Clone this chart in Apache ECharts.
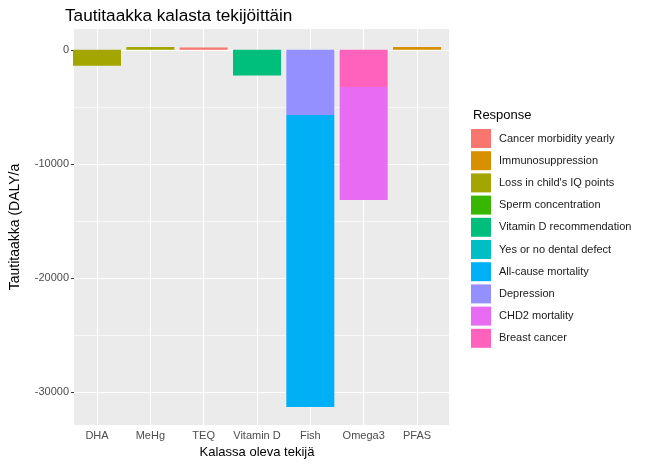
<!DOCTYPE html>
<html>
<head>
<meta charset="utf-8">
<script src="https://cdn.jsdelivr.net/npm/echarts@6/dist/echarts.min.js"></script>
<style>html,body{margin:0;padding:0;background:#fff;}#c{width:650px;height:465px;}</style>
</head>
<body>
<div id="c"></div>
<script>
const categories = ['DHA', 'MeHg', 'TEQ', 'Vitamin D', 'Fish', 'Omega3', 'PFAS'];
const responses = ['Cancer morbidity yearly', 'Immunosuppression', "Loss in child's IQ points", 'Sperm concentration', 'Vitamin D recommendation', 'Yes or no dental defect', 'All-cause mortality', 'Depression', 'CHD2 mortality', 'Breast cancer'];
const colors = ['#F8766D', '#D89000', '#A3A500', '#39B600', '#00BF7D', '#00BFC4', '#00B0F6', '#9590FF', '#E76BF3', '#FF62BC'];
// values per response, aligned with categories
const cancerMorbidity = [null, null, 200, null, null, null, null];
const immunosuppression = [null, null, null, null, null, null, 250];
const iqLoss = [-1400, 250, null, null, null, null, null];
const spermConcentration = [null, null, null, null, null, null, null];
const vitaminDRec = [null, null, null, -2250, null, null, null];
const dentalDefect = [null, null, null, null, null, null, null];
const allCauseMortality = [null, null, null, null, -25600, null, null];
const depression = [null, null, null, null, -5700, null, null];
const chd2Mortality = [null, null, null, null, null, -9900, null];
const breastCancer = [null, null, null, null, null, -3250, null];
const yTicks = [0, -10000, -20000, -30000];
const yMinor = [-5000, -15000, -25000];

const seriesValues = [cancerMorbidity, immunosuppression, iqLoss, spermConcentration, vitaminDRec, dentalDefect, allCauseMortality, depression, chd2Mortality, breastCancer];

const font = 'Liberation Sans, Arial, sans-serif';
const yMin = -32878, yMax = 1828;

// panel (outer grid) and data area with ggplot's 0.6-category expansion (inner grid)
const panelLeft = 65, panelRight = 201, panelTop = 29, panelBottom = 40;
const panelW = 650 - panelLeft - panelRight;
const band = panelW / (categories.length + 0.2);
const inset = band * 0.1;

const series = [];
// horizontal gridlines in the panel grid
series.push({
  name: '_hgrid', type: 'line', data: [], xAxisIndex: 0, yAxisIndex: 0, z: 1, silent: true,
  markLine: {
    silent: true, symbol: 'none', animation: false, label: {show: false}, z: 1,
    data: [
      ...yMinor.map(v => ({yAxis: v, lineStyle: {color: '#fff', width: 0.6, type: 'solid'}})),
      ...yTicks.map(v => ({yAxis: v, lineStyle: {color: '#fff', width: 1.1, type: 'solid'}}))
    ]
  }
});
// vertical gridlines at category centres in the data grid
series.push({
  name: '_vgrid', type: 'line', data: [], xAxisIndex: 1, yAxisIndex: 1, z: 1, silent: true,
  markLine: {
    silent: true, symbol: 'none', animation: false, label: {show: false}, z: 1,
    data: categories.map(c => ({xAxis: c, lineStyle: {color: '#fff', width: 1.1, type: 'solid'}}))
  }
});
// ggplot stacks the last factor level nearest zero -> add in reverse
for (let i = responses.length - 1; i >= 0; i--) {
  series.push({
    name: responses[i], type: 'bar', stack: 'total', barWidth: '90%', z: 3,
    xAxisIndex: 1, yAxisIndex: 1,
    itemStyle: {color: colors[i]},
    data: seriesValues[i],
    animation: false
  });
}

const chart = echarts.init(document.getElementById('c'), null, {renderer: 'canvas'});
chart.setOption({
  animation: false,
  textStyle: {fontFamily: font},
  title: [
    {text: 'Tautitaakka kalasta tekijöittäin', left: 60, top: 3, textStyle: {fontFamily: font, fontSize: 17.2, fontWeight: 'normal', color: '#000'}},
    {text: 'Response', left: 468, top: 104, textStyle: {fontFamily: font, fontSize: 13, fontWeight: 'normal', color: '#000'}}
  ],
  legend: {
    orient: 'vertical', left: 466, top: 124,
    data: responses,
    itemWidth: 20, itemHeight: 19, itemGap: 3.2,
    icon: 'rect',
    textStyle: {fontFamily: font, fontSize: 11, color: '#1a1a1a', padding: [0, 0, 0, 3]},
    selectedMode: false
  },
  grid: [
    {left: panelLeft, right: panelRight, top: panelTop, bottom: panelBottom, show: true, backgroundColor: '#EBEBEB', borderWidth: 0, containLabel: false},
    {left: panelLeft + inset, right: panelRight + inset, top: panelTop, bottom: panelBottom, show: false, containLabel: false}
  ],
  xAxis: [
    {gridIndex: 0, type: 'value', min: 0, max: 1, show: false},
    {
      gridIndex: 1, type: 'category', data: categories,
      axisLine: {show: false},
      axisTick: {show: true, alignWithLabel: true, length: 3, lineStyle: {color: '#333'}},
      axisLabel: {color: '#4D4D4D', fontSize: 11, margin: 5, interval: 0, fontFamily: font},
      splitLine: {show: false},
      name: 'Kalassa oleva tekijä', nameLocation: 'middle', nameGap: 17,
      nameTextStyle: {fontFamily: font, fontSize: 13, color: '#000'}
    }
  ],
  yAxis: [
    {
      gridIndex: 0, type: 'value', min: yMin, max: yMax,
      axisLine: {show: false},
      axisTick: {show: true, length: 3, lineStyle: {color: '#333'}, customValues: yTicks},
      axisLabel: {color: '#4D4D4D', fontSize: 11, margin: 5, fontFamily: font, customValues: yTicks, formatter: v => String(v)},
      splitLine: {show: false},
      name: 'Tautitaakka (DALY/a', nameLocation: 'middle', nameGap: 52,
      nameTextStyle: {fontFamily: font, fontSize: 14, color: '#000'}
    },
    {gridIndex: 1, type: 'value', min: yMin, max: yMax, show: false, splitLine: {show: false}}
  ],
  series: series
});
</script>
</body>
</html>
